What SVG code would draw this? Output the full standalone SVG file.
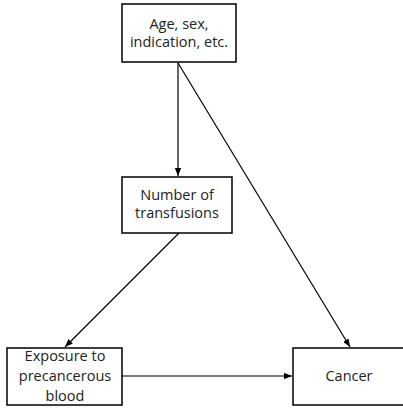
<svg xmlns="http://www.w3.org/2000/svg" width="403" height="409" viewBox="0 0 403 409">
<defs>
<marker id="arr" viewBox="0 0 10 8" refX="10" refY="4" markerWidth="8" markerHeight="6.4" markerUnits="userSpaceOnUse" orient="auto">
<path d="M0,0 L10,4 L0,8 Z" fill="#000"/>
</marker>
</defs>
<style>
.box{fill:#fff;stroke:#000;stroke-width:1.5}
.lbl{font-family:"Open Sans","Liberation Sans",sans-serif;font-size:14.5px;fill:#222;text-anchor:middle}
.edge{stroke:#000;stroke-width:1.2;fill:none;marker-end:url(#arr)}
</style>
<rect width="403" height="409" fill="#fff"/>
<g id="edges">
<line class="edge" x1="178" y1="63" x2="178" y2="176"/>
<line class="edge" x1="178" y1="63" x2="350" y2="347"/>
<line class="edge" x1="179" y1="233" x2="65" y2="347"/>
<line class="edge" x1="122" y1="376" x2="292" y2="376"/>
</g>
<g id="n1">
<rect class="box" x="122" y="4" width="114" height="58"/>
<text class="lbl" x="179" y="29">Age, sex,</text>
<text class="lbl" x="179" y="47">indication, etc.</text>
</g>
<g id="n2">
<rect class="box" x="122" y="177" width="110" height="56"/>
<text class="lbl" x="177" y="200">Number of</text>
<text class="lbl" x="177" y="218">transfusions</text>
</g>
<g id="n3">
<rect class="box" x="7" y="348" width="115" height="57"/>
<text class="lbl" x="65" y="361">Exposure to</text>
<text class="lbl" x="65" y="381">precancerous</text>
<text class="lbl" x="65" y="401">blood</text>
</g>
<g id="n4">
<rect class="box" x="293" y="348" width="112" height="57"/>
<text class="lbl" x="349" y="381">Cancer</text>
</g>
</svg>
